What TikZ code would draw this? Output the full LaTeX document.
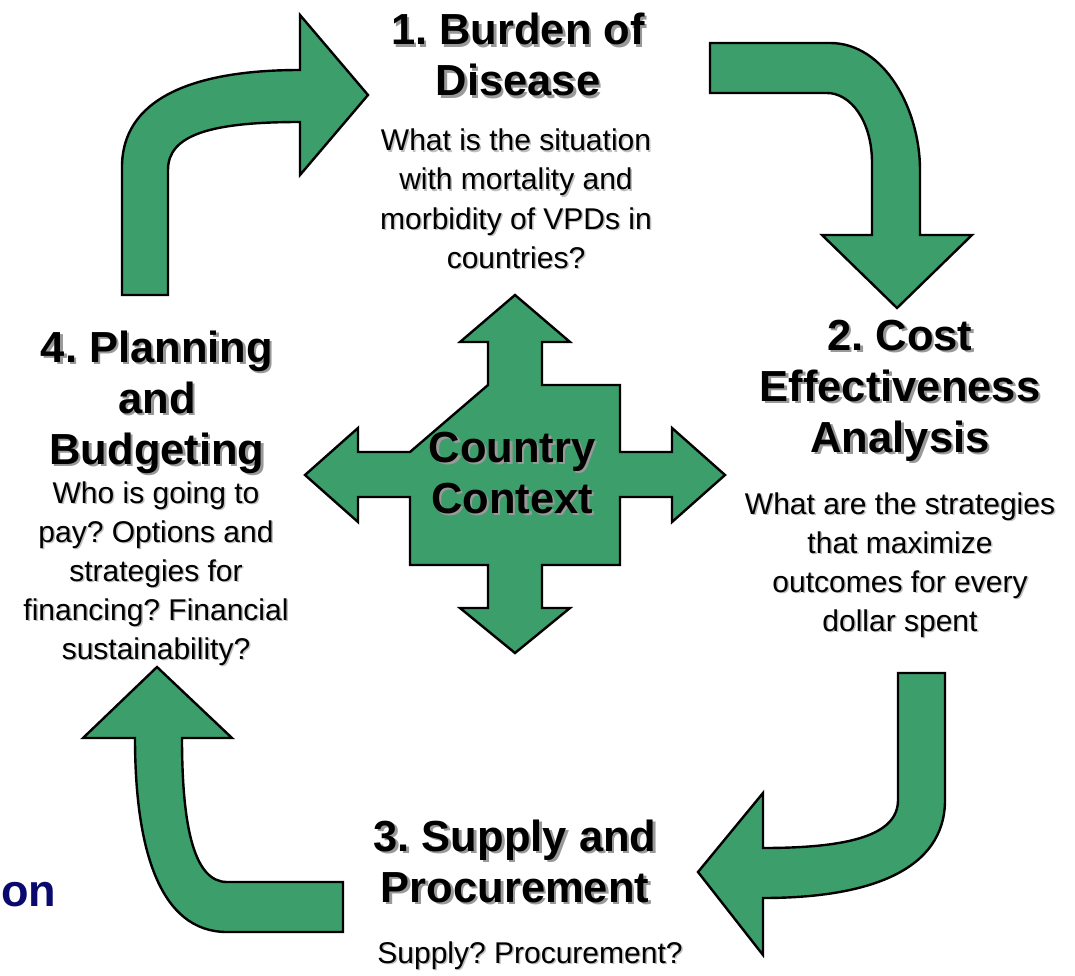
\documentclass[tikz,border=0pt]{standalone}
\usepackage{fontspec}
\setmainfont{Liberation Sans}
\usepackage{tikz}
\frenchspacing

\definecolor{verde}{RGB}{60,158,106}
\definecolor{azul}{RGB}{10,10,110}

\tikzset{
  flecha/.style={fill=verde, draw=black, line width=2.4pt},
  titulo/.style={anchor=base, align=center, inner sep=0pt,
    font=\bfseries\fontsize{43.5}{51}\selectfont},
  titulo sombra/.style={text=black!40, xshift=2.5pt, yshift=-2.5pt},
  cuerpo/.style={anchor=base, align=center, inner sep=0pt,
    font=\fontsize{30}{39}\selectfont},
  cuerpo sombra/.style={text=black!25, xshift=1.5pt, yshift=-1.5pt}
}

% texto con sombra: nombre, estilo, posicion (base de la ultima linea), texto
\newcommand{\rotulo}[4]{%
  \node[#2, #2 sombra] at (#3) {#4};
  \node[#2] (#1) at (#3) {#4};}

\begin{document}
\begin{tikzpicture}[x=1pt, y=-1pt]
  \useasboundingbox (0,0) rectangle (1075,976);

  % Flecha 4 -> 1 (sube y gira a la derecha)
  \draw[flecha] (122,295) -- (122,167) .. controls (122,100) and (190,70) .. (300,70)
    -- (300,15) -- (368,95) -- (300,175) -- (300,122)
    .. controls (210,122) and (168,135) .. (168,170) -- (168,295) -- cycle;

  % Flecha 1 -> 2 (a la derecha y baja)
  \draw[flecha] (710,43) -- (830,43) .. controls (885,43) and (920,110) .. (920,170)
    -- (920,235) -- (972,235) -- (897,308) -- (822,235) -- (872,235) -- (872,163)
    .. controls (872,120) and (850,93) .. (827,93) -- (710,93) -- cycle;

  % Flecha 2 -> 3 (baja y gira a la izquierda)
  \draw[flecha] (898,673) -- (945,673) -- (945,800) .. controls (945,870) and (870,898) .. (763,898)
    -- (763,955) -- (698,872) -- (763,793) -- (763,848)
    .. controls (850,848) and (898,835) .. (898,800) -- cycle;

  % Flecha 3 -> 4 (a la izquierda y sube)
  \draw[flecha] (343,882) -- (343,932) -- (227,932) .. controls (160,932) and (135,850) .. (135,738)
    -- (83,738) -- (157,667) -- (232,738) -- (182,738)
    .. controls (182,830) and (195,882) .. (227,882) -- cycle;

  % Cruz central con cuatro puntas
  \draw[flecha] (488,385) -- (488,342) -- (460,342) -- (515,295) -- (570,342) -- (542,342)
    -- (542,385) -- (620,385) -- (620,452) -- (672,452) -- (672,428) -- (725,475)
    -- (672,522) -- (672,497) -- (620,497) -- (620,565) -- (542,565) -- (542,608)
    -- (570,608) -- (515,653) -- (460,608) -- (488,608) -- (488,565) -- (410,565)
    -- (410,497) -- (358,497) -- (358,522) -- (305,475) -- (358,428) -- (358,452)
    -- (410,452) -- cycle;
  \rotulo{contexto}{titulo}{512,513}{Country\\Context}

  % Etapas del ciclo
  \rotulo{carga}{titulo}{518,96}{1. Burden of\\Disease}
  \rotulo{carga-txt}{cuerpo}{516,268}{What is the situation\\with mortality and\\morbidity of VPDs in\\countries?}

  \rotulo{costo}{titulo}{900,452}{2. Cost\\Effectiveness\\Analysis}
  \rotulo{costo-txt}{cuerpo}{900,631}{What are the strategies\\that maximize\\outcomes for every\\dollar spent}

  \rotulo{suministro}{titulo}{515,902}{3. Supply and\\Procurement}
  \rotulo{suministro-txt}{cuerpo}{530,963}{Supply? Procurement?}

  \rotulo{plan}{titulo}{157,464}{4. Planning\\and\\Budgeting}
  \rotulo{plan-txt}{cuerpo}{156,659}{Who is going to\\pay? Options and\\strategies for\\financing? Financial\\sustainability?}

  % resto de un titulo cortado
  \node[anchor=base west, inner sep=0pt, text=azul,
    font=\bfseries\fontsize{45}{50}\selectfont] (on) at (1,906) {on};
\end{tikzpicture}
\end{document}
